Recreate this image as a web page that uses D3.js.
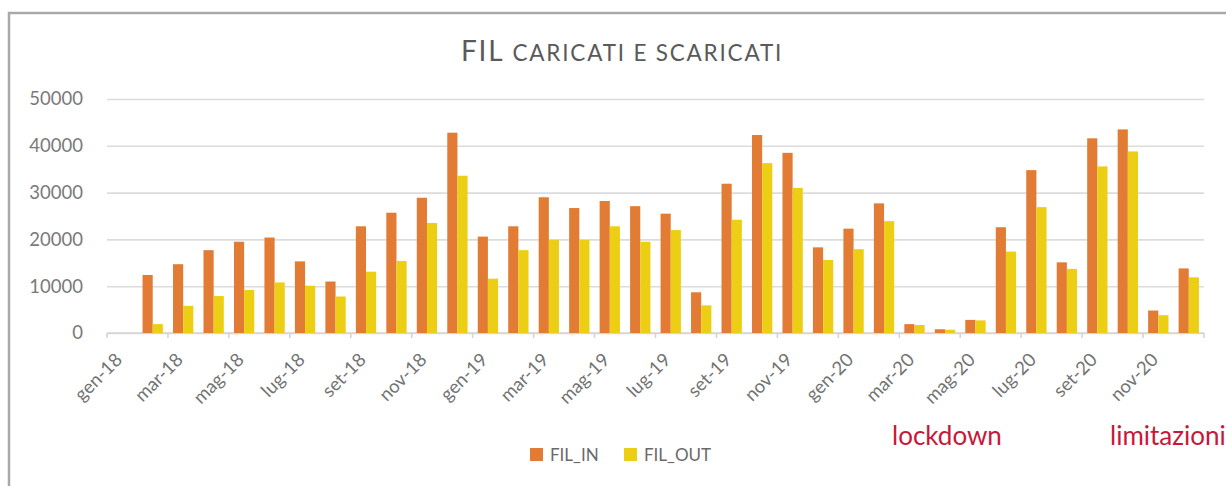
<!DOCTYPE html>
<html>
<head>
<meta charset="utf-8">
<script src="https://cdn.jsdelivr.net/npm/d3@7"></script>
<style>
  body { margin: 0; background: #fff; }
  svg { display: block; }
  text { font-family: Lato, "Open Sans", sans-serif; }
</style>
</head>
<body>
<script>
"use strict";

// size of the page
let w = 1226;
let h = 486;

// one category per month, gen-18 has no data
let months = ["gen-18", "feb-18", "mar-18", "apr-18", "mag-18", "giu-18",
              "lug-18", "ago-18", "set-18", "ott-18", "nov-18", "dic-18",
              "gen-19", "feb-19", "mar-19", "apr-19", "mag-19", "giu-19",
              "lug-19", "ago-19", "set-19", "ott-19", "nov-19", "dic-19",
              "gen-20", "feb-20", "mar-20", "apr-20", "mag-20", "giu-20",
              "lug-20", "ago-20", "set-20", "ott-20", "nov-20", "dic-20"];
let filIn = [null, 12400, 14700, 17700, 19500, 20400, 15300, 11000, 22800, 25700, 28900, 42800,
             20600, 22800, 29000, 26700, 28200, 27100, 25500, 8700, 31900, 42300, 38500, 18300,
             22300, 27700, 1900, 800, 2800, 22600, 34800, 15100, 41600, 43500, 4800, 13800];
let filOut = [null, 1900, 5800, 7900, 9200, 10800, 10100, 7800, 13100, 15400, 23500, 33600,
              11600, 17700, 19900, 19900, 22800, 19500, 22000, 5900, 24200, 36300, 31000, 15600,
              17900, 23900, 1700, 700, 2700, 17400, 26900, 13700, 35600, 38800, 3800, 11900];
let seriesNames = ["FIL_IN", "FIL_OUT"];
let yTicks = [0, 10000, 20000, 30000, 40000, 50000];
let notes = [{text: "lockdown", x: 892}, {text: "limitazioni", x: 1110}];

let colors = {FIL_IN: "#e27b33", FIL_OUT: "#eccf14"};

let svg = d3.select("body")
    .append("svg")
    .attr("width", w)
    .attr("height", h);

// chart frame, only top and left edges are in view
svg.append("rect")
    .attr("x", 9).attr("y", 13)
    .attr("width", w + 20).attr("height", h + 20)
    .attr("fill", "none")
    .attr("stroke", "#a9a9a9")
    .attr("stroke-width", 2.5);

// plot area
let pLeft = 107, pRight = 1204, pTop = 99, pBottom = 333;

let x = d3.scaleBand()
    .domain(months)
    .range([pLeft, pRight])
    .paddingInner(0)
    .paddingOuter(0);

let xs = d3.scaleBand()
    .domain(seriesNames)
    .range([0, x.bandwidth()])
    .paddingOuter(0.5)
    .paddingInner(0);

let y = d3.scaleLinear()
    .domain([0, 50000])
    .range([pBottom, pTop]);

// title
let title = svg.append("text")
    .attr("x", 622)
    .attr("y", 61)
    .attr("text-anchor", "middle")
    .attr("letter-spacing", 1.8)
    .attr("fill", "#5a5a5a");
title.append("tspan").attr("font-size", 28).text("FIL ");
title.append("tspan").attr("font-size", 22.5).text("CARICATI E SCARICATI");

// y axis with gridlines
let yAxis = svg.append("g")
    .attr("transform", `translate(${pLeft},0)`)
    .call(d3.axisLeft(y)
        .tickValues(yTicks)
        .tickSize(-(pRight - pLeft))
        .tickPadding(24)
        .tickFormat(d3.format("d")));
yAxis.select(".domain").remove();
yAxis.selectAll(".tick line")
    .attr("stroke", "#dcdcdc")
    .attr("stroke-width", 1.6);
yAxis.selectAll(".tick text")
    .attr("font-size", 18.5)
    .attr("fill", "#7a7a7a");

// x axis line and ticks every two months
let xAxis = svg.append("g");
xAxis.append("line")
    .attr("x1", pLeft).attr("x2", pRight)
    .attr("y1", pBottom).attr("y2", pBottom)
    .attr("stroke", "#d4d4d4")
    .attr("stroke-width", 1.6);

let tickCats = months.filter((d, i) => i % 2 == 0);
let tickPos = tickCats.map(d => x(d)).concat([pRight]);
xAxis.selectAll("line.tick")
    .data(tickPos)
    .enter().append("line")
    .attr("class", "tick")
    .attr("x1", d => d).attr("x2", d => d)
    .attr("y1", pBottom).attr("y2", pBottom + 5)
    .attr("stroke", "#d4d4d4")
    .attr("stroke-width", 1.6);

xAxis.selectAll("text")
    .data(tickCats)
    .enter().append("text")
    .attr("transform", d => `translate(${x(d) + x.bandwidth() / 2 + 1},${pBottom + 28}) rotate(-45)`)
    .attr("text-anchor", "end")
    .attr("font-size", 18.5)
    .attr("fill", "#737373")
    .text(d => d);

// bars
let rows = months.map((m, i) => ({month: m, FIL_IN: filIn[i], FIL_OUT: filOut[i]}));

svg.append("g")
    .selectAll("g")
    .data(rows)
    .enter().append("g")
    .attr("transform", d => `translate(${x(d.month)},0)`)
    .selectAll("rect")
    .data(d => seriesNames.filter(s => d[s] != null).map(s => ({key: s, value: d[s]})))
    .enter().append("rect")
    .attr("x", d => xs(d.key))
    .attr("width", xs.bandwidth())
    .attr("y", d => y(d.value))
    .attr("height", d => y(0) - y(d.value))
    .attr("fill", d => colors[d.key]);

// legend
let legendItems = [{key: "FIL_IN", x: 530}, {key: "FIL_OUT", x: 624}];
let legend = svg.append("g").selectAll("g")
    .data(legendItems)
    .enter().append("g")
    .attr("transform", d => `translate(${d.x},448)`);
legend.append("rect")
    .attr("width", 13).attr("height", 13)
    .attr("fill", d => colors[d.key]);
legend.append("text")
    .attr("x", 20).attr("y", 13)
    .attr("font-size", 17)
    .attr("fill", "#6a6a6a")
    .text(d => d.key);

// red notes under the axis
svg.selectAll("text.note")
    .data(notes)
    .enter().append("text")
    .attr("class", "note")
    .attr("x", d => d.x)
    .attr("y", 445)
    .attr("font-size", 26)
    .attr("fill", "#c8183a")
    .text(d => d.text);
</script>
</body>
</html>
